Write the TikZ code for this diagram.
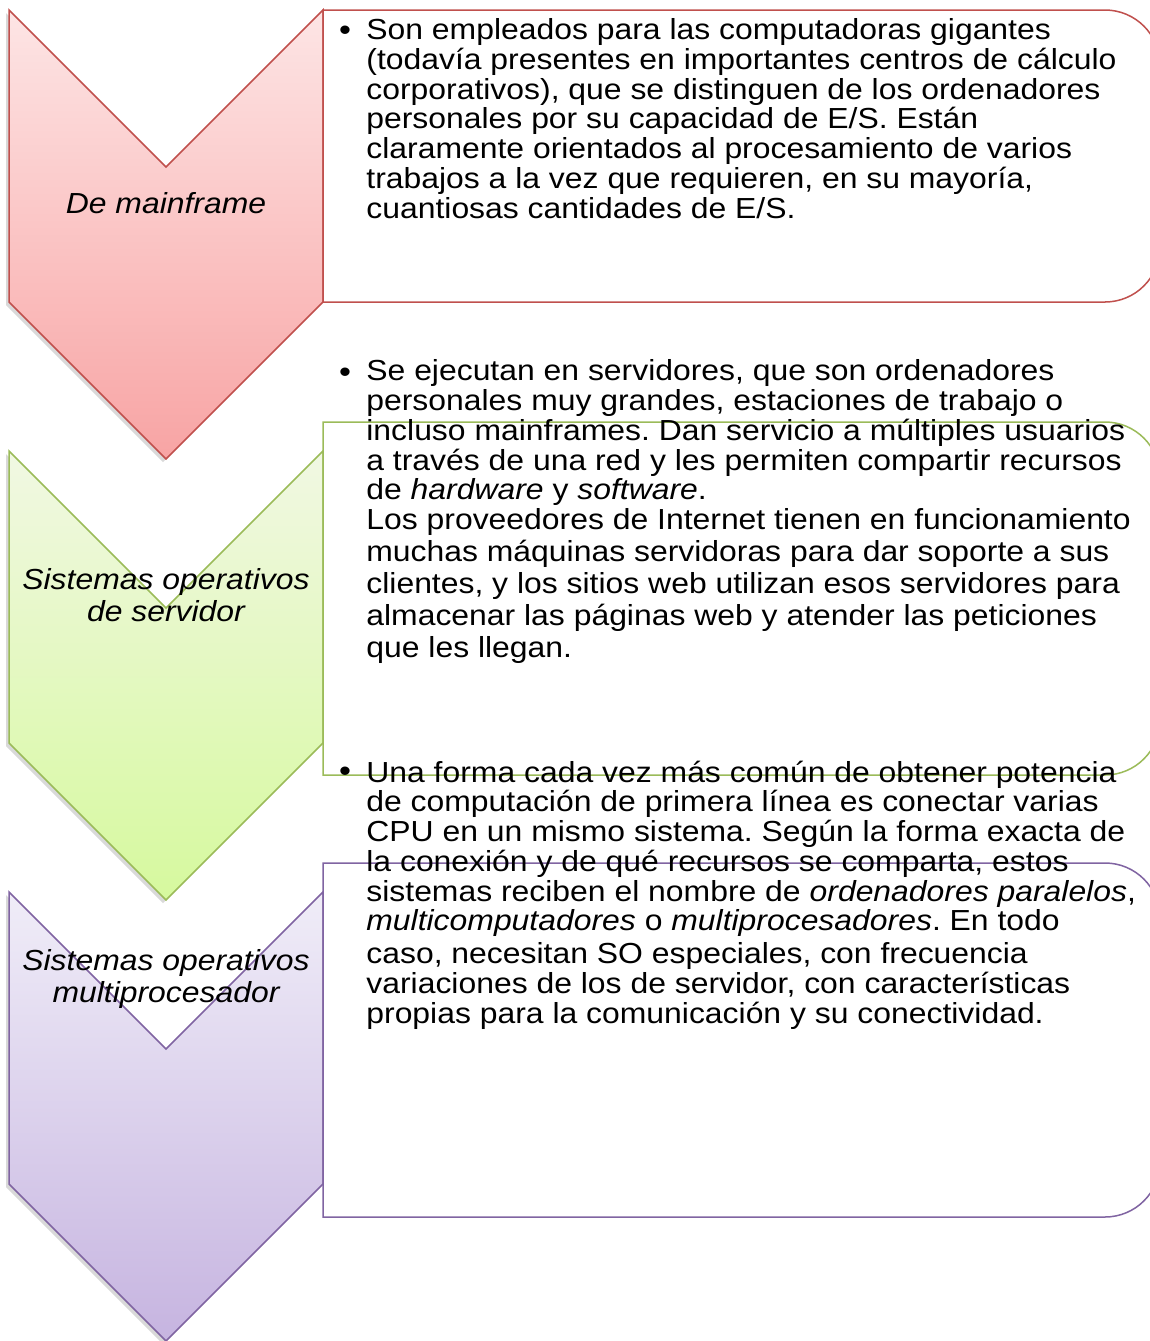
\documentclass[tikz,border=0pt]{standalone}
\usepackage{fontspec}
\setmainfont[FakeStretch=1.1]{Liberation Sans}
\usetikzlibrary{shadows}
\definecolor{redline}{HTML}{C0504D}
\definecolor{redtop}{HTML}{FDE5E5}
\definecolor{redbot}{HTML}{F8A4A4}
\definecolor{greenline}{HTML}{9BBB59}
\definecolor{greentop}{HTML}{F1F8E3}
\definecolor{greenbot}{HTML}{D6F99E}
\definecolor{purpleline}{HTML}{8064A2}
\definecolor{purpletop}{HTML}{F0EDF8}
\definecolor{purplebot}{HTML}{C6B4E0}
\frenchspacing

\begin{document}
\begin{tikzpicture}[x=0.5pt, y=0.5pt,
    chevron/.style={draw=#1, line width=0.75pt,
                    drop shadow={shadow xshift=-1.5pt, shadow yshift=-1.5pt, opacity=0.3, fill=gray}},
    infobox/.style={draw=#1, line width=0.75pt, fill=white},
    tag/.style={font=\fontsize{14.5}{16}\selectfont\itshape, align=center, inner sep=0pt, anchor=base},
    body/.style={font=\fontsize{14.5}{14.85}\selectfont, align=left, anchor=base west, inner sep=0pt},
    dot/.style={font=\fontsize{15.5}{14.85}\selectfont, anchor=base, inner sep=0pt}
  ]
    \useasboundingbox (0,0) rectangle (1150,-1341);

    % Chevrons
    \path[chevron=redline, top color=redtop, bottom color=redbot]
      (9,-10) -- (166,-167) -- (323,-10) -- (323,-302) -- (166,-459) -- (9,-302) -- cycle;
    \path[chevron=greenline, top color=greentop, bottom color=greenbot]
      (9,-451) -- (166,-608) -- (323,-451) -- (323,-743) -- (166,-900) -- (9,-743) -- cycle;
    \path[chevron=purpleline, top color=purpletop, bottom color=purplebot]
      (9,-892) -- (166,-1049) -- (323,-892) -- (323,-1184) -- (166,-1341) -- (9,-1184) -- cycle;

    % Text boxes
    \draw[infobox=redline] (323,-10) -- (1105,-10) arc[start angle=90, end angle=0, radius=55]
      -- (1160,-247) arc[start angle=0, end angle=-90, radius=55] -- (323,-302) -- cycle;
    \draw[infobox=greenline] (323,-422) -- (1105,-422) arc[start angle=90, end angle=0, radius=55]
      -- (1160,-720) arc[start angle=0, end angle=-90, radius=55] -- (323,-775) -- cycle;
    \draw[infobox=purpleline] (323,-863) -- (1105,-863) arc[start angle=90, end angle=0, radius=55]
      -- (1160,-1162) arc[start angle=0, end angle=-90, radius=55] -- (323,-1217) -- cycle;

    % Labels (anchored on the last line)
    \node[tag] (tmain) at (166,-213) {De mainframe};
    \node[tag] (tserv) at (166,-621) {Sistemas operativos\\de servidor};
    \node[tag] (tmulti) at (166,-1002) {Sistemas operativos\\multiprocesador};

    % Mainframe text
    \node[dot] (b1) at (345,-40) {•};
    \node[body] (txtmain) at (366,-218)
      {Son empleados para las computadoras gigantes\\
       (todavía presentes en importantes centros de cálculo\\
       corporativos), que se distinguen de los ordenadores\\
       personales por su capacidad de E/S. Están\\
       claramente orientados al procesamiento de varios\\
       trabajos a la vez que requieren, en su mayoría,\\
       cuantiosas cantidades de E/S.};

    % Server text
    \node[dot] (b2) at (345,-382) {•};
    \node[body] (txtserv) at (366,-657)
      {Se ejecutan en servidores, que son ordenadores\\
       personales muy grandes, estaciones de trabajo o\\
       incluso mainframes. Dan servicio a múltiples usuarios\\
       a través de una red y les permiten compartir recursos\\
       de \textit{hardware} y \textit{software}.\\
       Los proveedores de Internet tienen en funcionamiento\\[1.1pt]
       muchas máquinas servidoras para dar soporte a sus\\[1.1pt]
       clientes, y los sitios web utilizan esos servidores para\\[1.1pt]
       almacenar las páginas web y atender las peticiones\\[1.1pt]
       que les llegan.};

    % Multiprocessor text
    \node[dot] (b3) at (345,-781) {•};
    \node[body] (txtmulti) at (366,-1023)
      {Una forma cada vez más común de obtener potencia\\
       de computación de primera línea es conectar varias\\
       CPU en un mismo sistema. Según la forma exacta de\\
       la conexión y de qué recursos se comparta, estos\\
       sistemas reciben el nombre de \textit{ordenadores paralelos},\\
       \textit{multicomputadores} o \textit{multiprocesadores}. En todo\\[1.6pt]
       caso, necesitan SO especiales, con frecuencia\\
       variaciones de los de servidor, con características\\
       propias para la comunicación y su conectividad.};
  \end{tikzpicture}
\end{document}
